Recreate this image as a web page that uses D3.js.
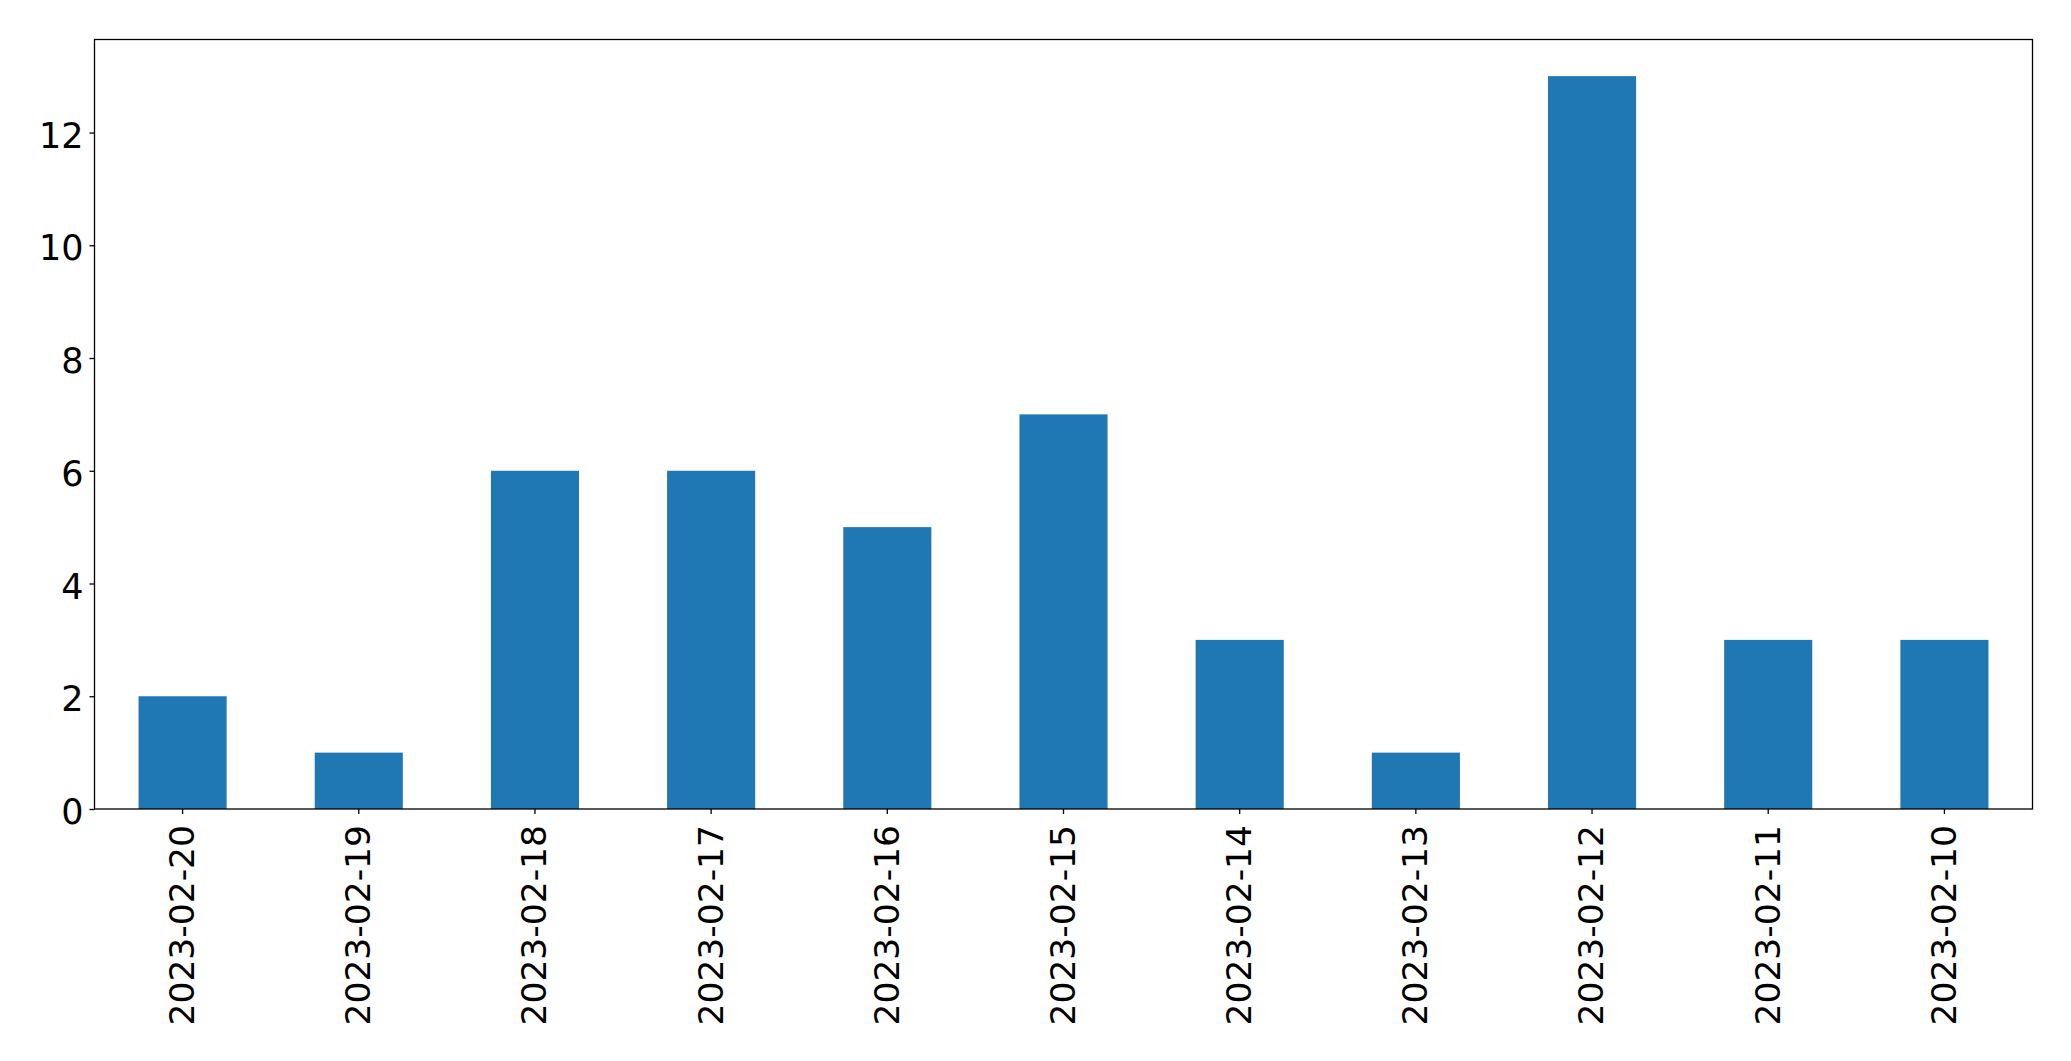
<!DOCTYPE html>
<html><head><meta charset="utf-8">
<script src="https://cdn.jsdelivr.net/npm/d3@7"></script>
<style>body{margin:0;background:#fff;} text{font-family:"DejaVu Sans",sans-serif;}</style>
</head><body>
<script>
const categories = ["2023-02-20","2023-02-19","2023-02-18","2023-02-17","2023-02-16","2023-02-15","2023-02-14","2023-02-13","2023-02-12","2023-02-11","2023-02-10"];
const values = [2,1,6,6,5,7,3,1,13,3,3];
const yTicks = [0,2,4,6,8,10,12];

const W = 2071, H = 1061;
const m = {left:94.5, right:2071-2032.5, top:39.5, bottom:1061-809};
const svg = d3.select("body").append("svg").attr("width",W).attr("height",H);
const x = d3.scaleBand().domain(categories).range([m.left, W-m.right]).paddingInner(0.5).paddingOuter(0.25);
const y = d3.scaleLinear().domain([0,13.65]).range([H-m.bottom, m.top]);

svg.append("g").selectAll("rect").data(values).join("rect")
  .attr("x",(d,i)=>x(categories[i])).attr("width",x.bandwidth())
  .attr("y",d=>y(d)).attr("height",d=>y(0)-y(d)).attr("fill","#1f77b4");

const ya = svg.append("g").attr("transform",`translate(${m.left},0)`)
  .call(d3.axisLeft(y).tickValues(yTicks).tickSize(5).tickPadding(6).tickFormat(d3.format("d")));
ya.select(".domain").remove();
ya.selectAll("line").attr("stroke","#000").attr("stroke-width",1.3);
ya.selectAll("text").attr("font-size",35).attr("fill","#000").style("font-family","DejaVu Sans").attr("dy","0.42em");

const xa = svg.append("g").attr("transform",`translate(0,${H-m.bottom})`)
  .call(d3.axisBottom(x).tickSize(5).tickPadding(7));
xa.select(".domain").remove();
xa.selectAll("line").attr("stroke","#000").attr("stroke-width",1.3);
xa.selectAll("text").attr("font-size",34.5).attr("fill","#000").style("font-family","DejaVu Sans")
  .attr("transform","rotate(-90)").attr("text-anchor","end")
  .attr("x",-16).attr("y",0).attr("dy","0.33em");

svg.append("rect").attr("x",m.left).attr("y",m.top).attr("width",W-m.left-m.right).attr("height",H-m.top-m.bottom)
  .attr("fill","none").attr("stroke","#000").attr("stroke-width",1.3);
</script>
</body></html>
